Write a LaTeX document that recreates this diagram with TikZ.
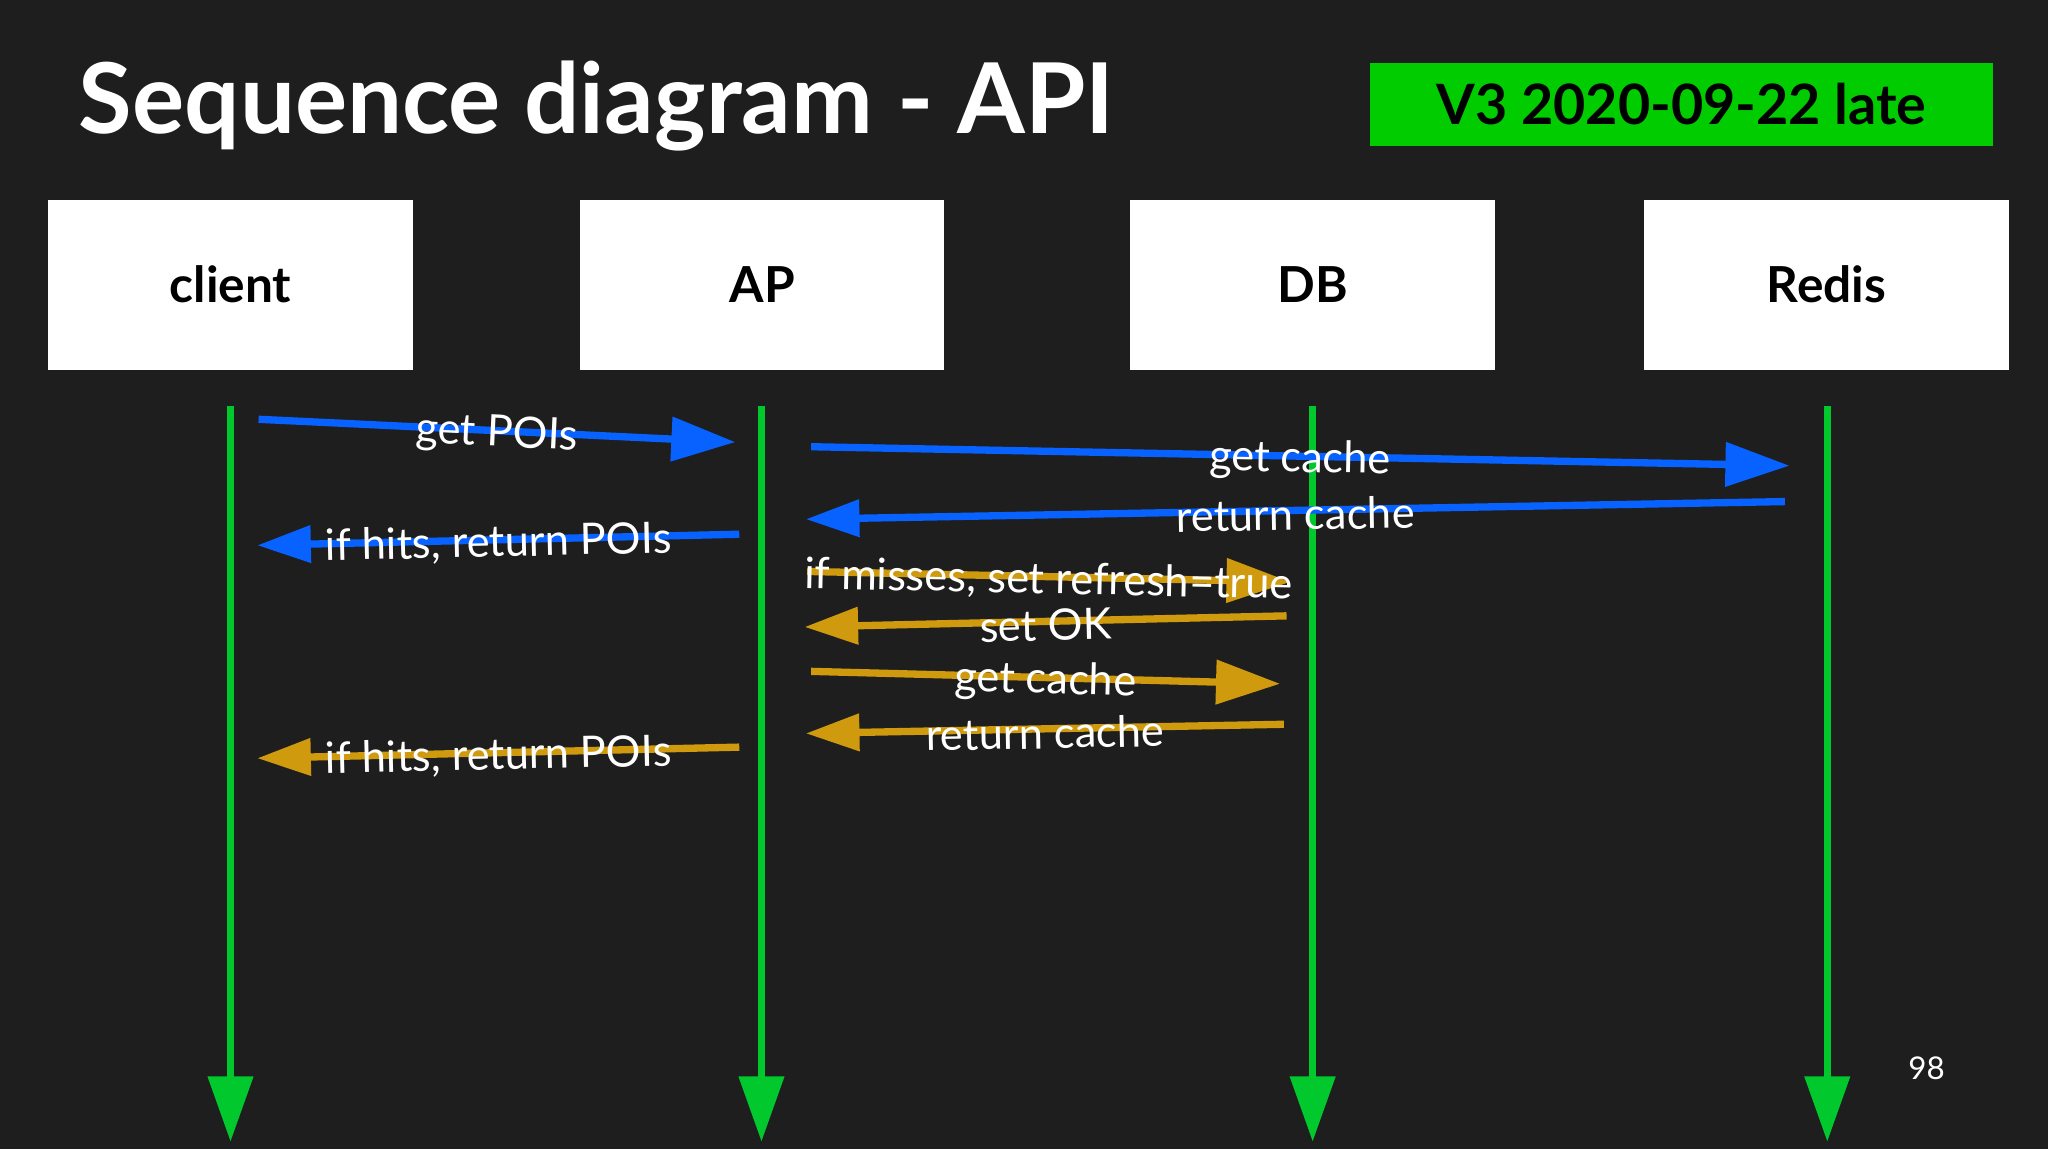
\documentclass[tikz,border=0pt]{standalone}
\usepackage{fontspec}
\setmainfont{Lato}
\usetikzlibrary{arrows.meta}
\definecolor{bg}{RGB}{30,30,31}
\definecolor{msgblue}{RGB}{8,98,255}
\definecolor{msggold}{RGB}{208,154,14}
\definecolor{lifegreen}{RGB}{0,200,45}
\definecolor{vergreen}{RGB}{0,204,0}
\tikzset{
  actor/.style={fill=white, draw=none, minimum width=139.5pt, minimum height=65pt, inner sep=0pt,
    text=black, font=\bfseries\fontsize{19}{22}\selectfont},
  lifeline/.style={draw=lifegreen, line width=2.5pt, -{Triangle[length=25pt,width=17pt]}},
  msgR/.style={line width=2.8pt, -{Triangle[length=24.5pt,width=16.5pt]}},
  msgL/.style={line width=2.8pt, -{Triangle[length=20.5pt,width=13.8pt]}},
  bluemsg/.style={draw=msgblue, fill=msgblue},
  goldmsg/.style={draw=msggold, fill=msggold},
  lbl/.style={text=white, font=\fontsize{16.6}{20}\selectfont, inner sep=0pt, sloped, midway, yshift=-1.5pt}
}
\begin{document}
\begin{tikzpicture}[x=0.5pt,y=-0.5pt]
\fill[bg] (0,0) rectangle (1568,880);
\useasboundingbox (0,0) rectangle (1568,880);

% title
\node[anchor=base west, inner sep=0pt, text=white, font=\bfseries\fontsize{37.4}{44}\selectfont] (title) at (60,102) {Sequence diagram - API};
\node[fill=vergreen, minimum width=238.5pt, minimum height=32pt, inner sep=0pt, text=black,
  font=\bfseries\fontsize{21.3}{26}\selectfont] (ver) at (1287.5,80) {V3 2020-09-22 late};

% actors
\node[actor] (client) at (176.5,218) {client};
\node[actor] (ap) at (583.5,218) {AP};
\node[actor] (db) at (1005,218) {DB};
\node[actor] (redis) at (1398.5,218) {Redis};

% lifelines
\coordinate (clientT) at (176.5,311); \coordinate (clientB) at (176.5,874);
\coordinate (apT) at (583,311); \coordinate (apB) at (583,874);
\coordinate (dbT) at (1005,311); \coordinate (dbB) at (1005,874);
\coordinate (redisT) at (1399,311); \coordinate (redisB) at (1399,874);
\draw[lifeline] (clientT) -- (clientB);
\draw[lifeline] (apT) -- (apB);
\draw[lifeline] (dbT) -- (dbB);
\draw[lifeline] (redisT) -- (redisB);

% message end points
\coordinate (m1s) at (198,321);   \coordinate (m1e) at (563,338.5);
\coordinate (m2s) at (621,342);   \coordinate (m2e) at (1370,356.5);
\coordinate (m3s) at (1366.5,384);\coordinate (m3e) at (617,397.5);
\coordinate (m4s) at (566,409);   \coordinate (m4e) at (197,417.5);
\coordinate (m5s) at (618,437.5); \coordinate (m5e) at (988,445.5);
\coordinate (m6s) at (985,471.5); \coordinate (m6e) at (616,480);
\coordinate (m7s) at (621,514);   \coordinate (m7e) at (980,523.5);
\coordinate (m8s) at (983,554.5); \coordinate (m8e) at (617,561.5);
\coordinate (m9s) at (566,572);   \coordinate (m9e) at (197,580.5);

% messages
\draw[msgR, bluemsg] (m1s) -- node[lbl] {get POIs} (m1e);
\draw[msgR, bluemsg] (m2s) -- node[lbl] {get cache} (m2e);
\draw[msgL, bluemsg] (m3s) -- node[lbl] {return cache} (m3e);
\draw[msgL, bluemsg] (m4s) -- node[lbl] {if hits, return POIs} (m4e);
\draw[msgR, goldmsg] (m5s) -- node[lbl] {if misses, set refresh=true} (m5e);
\draw[msgL, goldmsg] (m6s) -- node[lbl] {set OK} (m6e);
\draw[msgR, goldmsg] (m7s) -- node[lbl] {get cache} (m7e);
\draw[msgL, goldmsg] (m8s) -- node[lbl] {return cache} (m8e);
\draw[msgL, goldmsg] (m9s) -- node[lbl] {if hits, return POIs} (m9e);

% page number
\node[text=white, inner sep=0pt, font=\fontsize{12}{14}\selectfont] (page) at (1475,818) {98};
\end{tikzpicture}
\end{document}
